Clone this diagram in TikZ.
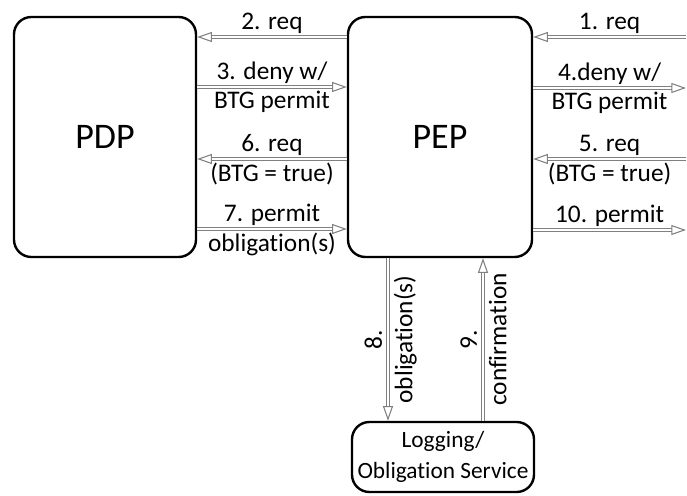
\documentclass[tikz,border=0pt]{standalone}
\usepackage{fontspec}
\setmainfont[Ligatures=NoCommon]{Carlito}
\usetikzlibrary{arrows.meta}
\definecolor{flowgray}{HTML}{808080}

\begin{document}
\begin{tikzpicture}[x=0.75pt,y=-0.75pt,line join=round,
  box/.style={draw=black,line width=1.8pt,rounded corners=13pt,inner sep=0pt},
  flow/.style={draw=flowgray,double=white,double distance=1.7pt,line width=0.8pt,
    -{Triangle[open,length=11pt,width=7.5pt]}},
  lbl/.style={font=\fontsize{19}{21}\selectfont,inner sep=2.5pt}]
  \useasboundingbox (0,0) rectangle (687,496);
  % ---- boxes ----
  \node[box,minimum width=136.5pt,minimum height=180pt,font=\fontsize{27}{30}\selectfont] (pdp) at (105,137) {PDP};
  \node[box,minimum width=138pt,minimum height=180pt,font=\fontsize{27}{30}\selectfont] (pep) at (440,137) {PEP};
  \node[box,minimum width=136.5pt,minimum height=52.5pt,align=center,
    font=\fontsize{17.5}{23}\selectfont] (log) at (443,457) {Logging/\\Obligation Service};
  % free ends at the right border
  \coordinate (r1) at (686,37);
  \coordinate (r4) at (686,88);
  \coordinate (r5) at (686,159);
  \coordinate (r10) at (686,230);

  % ---- PEP <-> PDP ----
  \draw[flow] (pep.west |- 0,37) -- (pdp.east |- 0,37) node[midway,above,lbl] {2. req};
  \draw[flow] (pdp.east |- 0,87) -- (pep.west |- 0,87) node[midway,above,lbl] {3. deny w/}
    node[midway,below,lbl] {BTG permit};
  \draw[flow] (pep.west |- 0,159) -- (pdp.east |- 0,159) node[midway,above,lbl] {6. req}
    node[midway,below,lbl] {(BTG = true)};
  \draw[flow] (pdp.east |- 0,229) -- (pep.west |- 0,229) node[midway,above,lbl] {7. permit}
    node[midway,below,lbl] {obligation(s)};

  % ---- client side ----
  \draw[flow] (r1) -- (pep.east |- r1) node[midway,above,lbl] {1. req};
  \draw[flow] (pep.east |- r4) -- (r4) node[midway,above,lbl] {4.deny w/}
    node[midway,below,lbl] {BTG permit};
  \draw[flow] (r5) -- (pep.east |- r5) node[midway,above,lbl] {5. req}
    node[midway,below,lbl] {(BTG = true)};
  \draw[flow] (pep.east |- r10) -- (r10) node[midway,above,lbl] {10. permit};

  % ---- obligation service ----
  \draw[flow] (pep.south -| 388,0) -- (log.north -| 388,0)
    node[midway,rotate=90,above,lbl,inner sep=4pt] {8.}
    node[midway,rotate=90,below,lbl,inner sep=4pt] {obligation(s)};
  \draw[flow] (log.north -| 483,0) -- (pep.south -| 483,0)
    node[midway,rotate=90,above,lbl,inner sep=4pt] {9.}
    node[midway,rotate=90,below,lbl,inner sep=4pt] {confirmation};
\end{tikzpicture}
\end{document}
